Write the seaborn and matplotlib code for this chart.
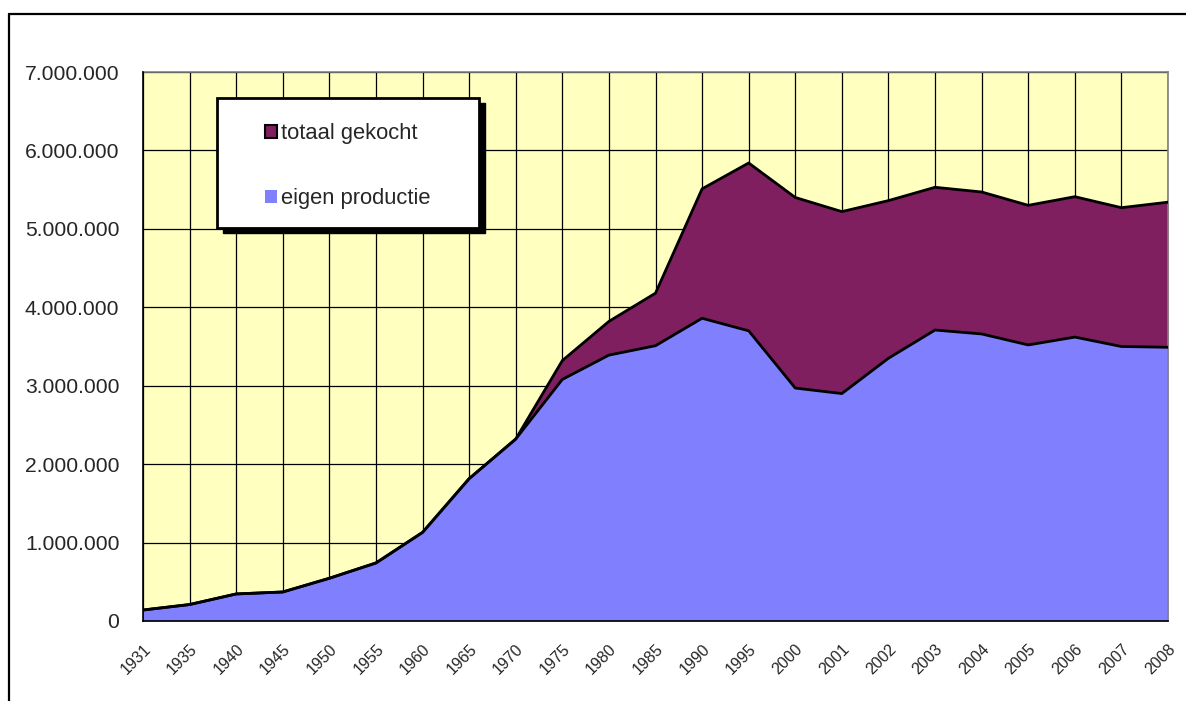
import matplotlib
matplotlib.use("Agg")
import matplotlib.pyplot as plt
from matplotlib.patches import Patch, Rectangle
from matplotlib.lines import Line2D
from matplotlib.ticker import FuncFormatter
import seaborn as sns
import numpy as np
import pandas as pd

# Data (values in units)
years = ["1931", "1935", "1940", "1945", "1950", "1955", "1960", "1965", "1970",
         "1975", "1980", "1985", "1990", "1995", "2000", "2001", "2002", "2003",
         "2004", "2005", "2006", "2007", "2008"]
eigen_productie = [140000, 210000, 345000, 370000, 545000, 740000, 1130000, 1815000, 2320000,
                   3080000, 3390000, 3510000, 3860000, 3700000, 2970000, 2900000, 3350000, 3710000,
                   3660000, 3520000, 3620000, 3500000, 3490000]
totaal_gekocht = [0, 0, 0, 0, 0, 0, 0, 0, 0,
                  240000, 430000, 670000, 1650000, 2140000, 2430000, 2320000, 2010000, 1820000,
                  1810000, 1780000, 1790000, 1770000, 1850000]
y_ticks = [0, 1000000, 2000000, 3000000, 4000000, 5000000, 6000000, 7000000]

col_eigen = "#8080FF"
col_gekocht = "#7F1F5F"
col_bg = "#FFFFC0"

df = pd.DataFrame({"jaar": years, "eigen": eigen_productie, "gekocht": totaal_gekocht})
df["pos"] = np.arange(len(df))
df["totaal"] = df["eigen"] + df["gekocht"]

sns.set_style("white")
plt.rcParams["font.family"] = ["Liberation Sans", "DejaVu Sans"]

fig = plt.figure(figsize=(11.86, 7.01), dpi=100)
ax = fig.add_axes([143 / 1186, 1 - 621 / 701, (1168 - 143) / 1186, (621 - 72) / 701])
ax.set_facecolor(col_bg)

# stacked areas
ax.fill_between(df["pos"], 0, df["eigen"], color=col_eigen, lw=0, zorder=2)
ax.fill_between(df["pos"], df["eigen"], df["totaal"], color=col_gekocht, lw=0, zorder=2)
sns.lineplot(data=df, x="pos", y="totaal", ax=ax, color="black", lw=2.0, zorder=3)
sns.lineplot(data=df, x="pos", y="eigen", ax=ax, color="black", lw=2.0, zorder=3)

ax.set_xlim(0, len(years) - 1)
ax.set_ylim(0, 7000000)
ax.set_xticks(df["pos"])
ax.set_xticklabels(years, rotation=45, ha="right", rotation_mode="anchor", fontsize=11.5)
ax.set_yticks(y_ticks)
ax.yaxis.set_major_formatter(FuncFormatter(lambda v, p: f"{v:,.0f}".replace(",", ".")))
ax.tick_params(axis="y", labelsize=15.2, direction="out", length=5, width=1, color="black", pad=12)
ax.tick_params(axis="x", direction="inout", length=7, width=1, color="black", pad=11)
ax.set_xlabel("")
ax.set_ylabel("")
ax.grid(True, color="black", lw=0.9, zorder=1)
ax.set_axisbelow(True)
for s in ["left", "bottom"]:
    ax.spines[s].set_color("black")
    ax.spines[s].set_linewidth(1.2)
    ax.spines[s].set_zorder(4)
for s in ["top", "right"]:
    ax.spines[s].set_color("#808080")
    ax.spines[s].set_linewidth(1.2)

# legend box with hard shadow
bx, by, bw, bh = 217 / 1186, 1 - 228 / 701, 262 / 1186, 130 / 701
fig.add_artist(Rectangle((bx + 6 / 1186, by - 5 / 701), bw, bh, transform=fig.transFigure,
                         facecolor="black", edgecolor="black", zorder=5))
fig.add_artist(Rectangle((bx, by), bw, bh, transform=fig.transFigure,
                         facecolor="white", edgecolor="black", lw=2, zorder=6))
handles = [Patch(facecolor=col_gekocht, edgecolor="black", lw=1.5, label="totaal gekocht"),
           Patch(facecolor=col_eigen, edgecolor="none", label="eigen productie")]
leg = fig.legend(handles=handles, loc="center", bbox_to_anchor=(bx, by - 3 / 701, bw, bh),
                 bbox_transform=fig.transFigure, frameon=False, fontsize=15.8,
                 handlelength=0.55, handleheight=0.55, handletextpad=0.2, labelspacing=2.0)
leg.set_zorder(7)

# outer chart frame
fx, fy = 9 / 1186, 1 - 14 / 701
fig.add_artist(Line2D([fx, fx], [0, fy], transform=fig.transFigure, color="black", lw=1.6))
fig.add_artist(Line2D([fx, 1], [fy, fy], transform=fig.transFigure, color="black", lw=1.6))

fig.savefig("out.png", dpi=100, facecolor="white")
